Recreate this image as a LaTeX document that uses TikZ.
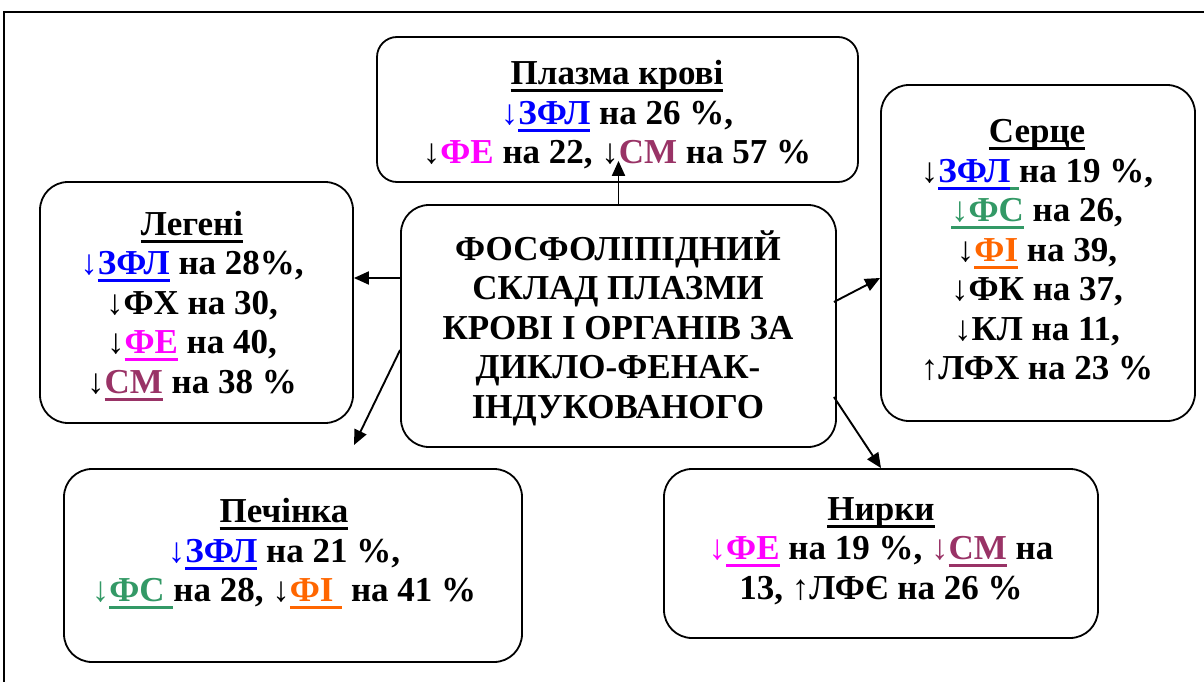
\documentclass[tikz,border=0pt]{standalone}
\usepackage{fontspec}
\setmainfont{Liberation Serif}
\usetikzlibrary{arrows.meta,calc}
\definecolor{cblue}{RGB}{0,0,255}
\definecolor{cmag}{RGB}{255,0,255}
\definecolor{cplum}{RGB}{153,51,102}
\definecolor{cgreen}{RGB}{51,153,102}
\definecolor{corange}{RGB}{255,102,0}
\newcommand\uln[1]{\setbox0=\hbox{#1}\rlap{\rule[-7.5pt]{\wd0}{3pt}}\box0}
\newcommand\dnarr{{\mdseries ↓}}
\newcommand\uparr{{\mdseries ↑}}
\begin{document}
\begin{tikzpicture}[x=1pt,y=-1pt,
  box/.style={draw, line width=1.8pt, rounded corners=28pt, inner sep=0pt},
  txt/.style={align=center, font=\fontsize{35}{39.5}\selectfont\bfseries, inner sep=0pt},
  arr/.style={line width=1.9pt, -{Triangle[length=15pt,width=13pt]}}]
\useasboundingbox (0,0) rectangle (1204,682);
\draw[line width=1.2pt] (4,700) -- (4,12) -- (1220,12);
% boxes
\node[box, rounded corners=20pt, minimum width=481pt, minimum height=145pt] (plasma) at (617.5,109.5) {};
\node[box, minimum width=435pt, minimum height=242pt] (center) at (618.5,326) {};
\node[box, minimum width=314pt, minimum height=336pt] (heart) at (1038,253) {};
\node[box, minimum width=313pt, minimum height=241pt] (lungs) at (196.5,302.5) {};
\node[box, minimum width=458pt, minimum height=193pt] (liver) at (293,565.5) {};
\node[box, minimum width=434pt, minimum height=169pt] (kidneys) at (881,553.5) {};
% texts
\node[txt] (plasmaT) at (617,115) {\uln{Плазма крові}\\
  \textcolor{cblue}{\dnarr\uln{ЗФЛ}} на 26 \%,\\
  \dnarr\textcolor{cmag}{ФЕ} на 22, \dnarr\textcolor{cplum}{СМ} на 57 \%};
\node[txt] (centerT) at (618,328) {ФОСФОЛІПІДНИЙ\\СКЛАД ПЛАЗМИ\\КРОВІ І ОРГАНІВ ЗА\\ДИКЛО-ФЕНАК-\\ІНДУКОВАНОГО};
\node[txt] (heartT) at (1037,250) {\uln{Серце}\\
  \dnarr\textcolor{cblue}{\uln{ЗФЛ}}\textcolor{cgreen}{\uln{\ }}на 19 \%,\\
  \textcolor{cgreen}{\uln{\dnarr ФС}} на 26,\\
  \dnarr\textcolor{corange}{\uln{ФІ}} на 39,\\
  \dnarr ФК на 37,\\
  \dnarr КЛ на 11,\\
  \uparr ЛФХ на 23 \%};
\node[txt] (lungsT) at (192,306) {\uln{Легені}\\
  \textcolor{cblue}{\dnarr\uln{ЗФЛ}} на 28\%,\\
  \dnarr ФХ на 30,\\
  \dnarr\textcolor{cmag}{\uln{ФЕ}} на 40,\\
  \dnarr\textcolor{cplum}{\uln{СМ}} на 38 \%};
\node[txt] (liverT) at (284,554) {\uln{Печінка}\\
  \textcolor{cblue}{\dnarr\uln{ЗФЛ}} на 21 \%,\\
  \textcolor{cgreen}{\dnarr\uln{ФС\ }}на 28, \dnarr\textcolor{corange}{\uln{ФІ\ }} на 41 \%};
\node[txt] (kidneysT) at (881,551) {\uln{Нирки}\\
  \textcolor{cmag}{\dnarr\uln{ФЕ}} на 19 \%, \textcolor{cplum}{\dnarr\uln{СМ}} на\\
  13, \uparr ЛФЄ на 26 \%};
% connectors
\coordinate (llend) at (354,445);
\draw[arr] (center.north) -- ([yshift=22pt]plasma.south -| center.north);
\draw[arr] ([yshift=48pt]center.west) coordinate (a1) -- (a1 -| lungs.east);
\draw[arr] ([yshift=-24pt]center.west) -- (llend);
\draw[arr] ([yshift=24pt,xshift=-3pt]center.east) -- ([yshift=-25pt]heart.west);
\draw[arr] ([yshift=-71pt,xshift=-3pt]center.east) -- (kidneys.north);
\end{tikzpicture}
\end{document}
